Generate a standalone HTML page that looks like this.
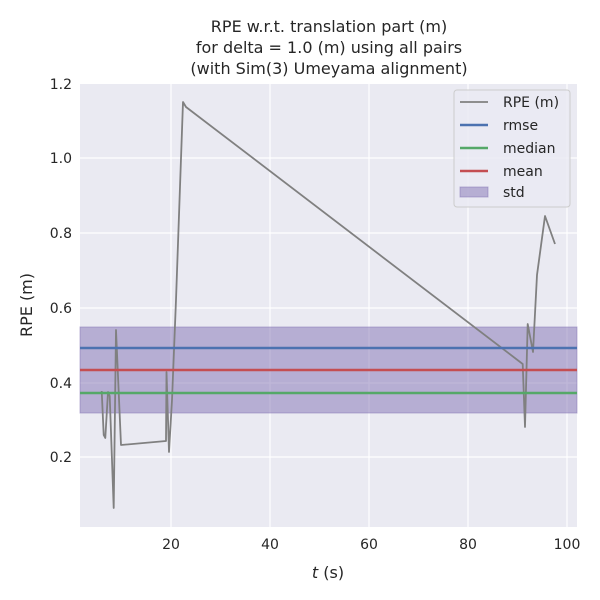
<!DOCTYPE html>
<html><head><style>body{margin:0;background:#fff}svg{display:block;font-family:"DejaVu Sans","Liberation Sans",sans-serif}</style></head><body>
<svg width="600" height="600" viewBox="0 0 600 600">
<rect x="80" y="84" width="497" height="443" fill="#eaeaf2"/>
<g stroke="#fff" stroke-width="1.2">
<line x1="171" y1="84" x2="171" y2="527"/><line x1="270" y1="84" x2="270" y2="527"/><line x1="369" y1="84" x2="369" y2="527"/><line x1="468" y1="84" x2="468" y2="527"/><line x1="567" y1="84" x2="567" y2="527"/>
<line x1="80" y1="158" x2="577" y2="158"/><line x1="80" y1="233" x2="577" y2="233"/><line x1="80" y1="308" x2="577" y2="308"/><line x1="80" y1="383" x2="577" y2="383"/><line x1="80" y1="457" x2="577" y2="457"/>
</g>
<rect x="80" y="327" width="497" height="86" fill="#8172b3" fill-opacity="0.5" stroke="#8172b3" stroke-opacity="0.5"/>
<polyline fill="none" stroke="#808080" stroke-width="1.8" stroke-linejoin="round" points="101.7,391 103.7,435 105.3,438 108,392 109.7,396 113.7,508 116,330 121,445 166,441 166.5,372 169,452 172,400 176,300 183,102 186,107 522.7,364 525,427 527.7,324 533,352 537,275 545,216 555,244"/>
<line x1="80" y1="348" x2="577" y2="348" stroke="#4c72b0" stroke-width="2.4"/>
<line x1="80" y1="370" x2="577" y2="370" stroke="#c44e52" stroke-width="2.4"/>
<line x1="80" y1="393" x2="577" y2="393" stroke="#55a868" stroke-width="2.4"/>
<g font-size="14" fill="#262626" text-anchor="end">
<text x="72" y="89">1.2</text><text x="72" y="163">1.0</text><text x="72" y="238">0.8</text><text x="72" y="313">0.6</text><text x="72" y="388">0.4</text><text x="72" y="462">0.2</text>
</g>
<g font-size="14" fill="#262626" text-anchor="middle">
<text x="171" y="549">20</text><text x="270" y="549">40</text><text x="369" y="549">60</text><text x="468" y="549">80</text><text x="567" y="549">100</text>
<text x="328" y="578" font-size="16"><tspan font-style="italic">t</tspan> (s)</text>
<text x="329" y="32" font-size="16">RPE w.r.t. translation part (m)</text>
<text x="329" y="53" font-size="16">for delta = 1.0 (m) using all pairs</text>
<text x="329" y="74" font-size="16">(with Sim(3) Umeyama alignment)</text>
</g>
<text transform="translate(32,305) rotate(-90)" font-size="16" fill="#262626" text-anchor="middle">RPE (m)</text>
<rect x="454" y="90" width="116" height="117" rx="3" fill="#eaeaf2" fill-opacity="0.8" stroke="#ccc"/>
<g font-size="14" fill="#262626">
<line x1="460" y1="102" x2="488" y2="102" stroke="#808080" stroke-width="1.8"/><text x="503" y="107">RPE (m)</text>
<line x1="460" y1="125" x2="488" y2="125" stroke="#4c72b0" stroke-width="2.4"/><text x="503" y="130">rmse</text>
<line x1="460" y1="148" x2="488" y2="148" stroke="#55a868" stroke-width="2.4"/><text x="503" y="153">median</text>
<line x1="460" y1="171" x2="488" y2="171" stroke="#c44e52" stroke-width="2.4"/><text x="503" y="176">mean</text>
<rect x="460" y="187" width="28" height="10" fill="#8172b3" fill-opacity="0.5" stroke="#8172b3" stroke-opacity="0.5"/><text x="503" y="197">std</text>
</g>
</svg>
</body></html>
